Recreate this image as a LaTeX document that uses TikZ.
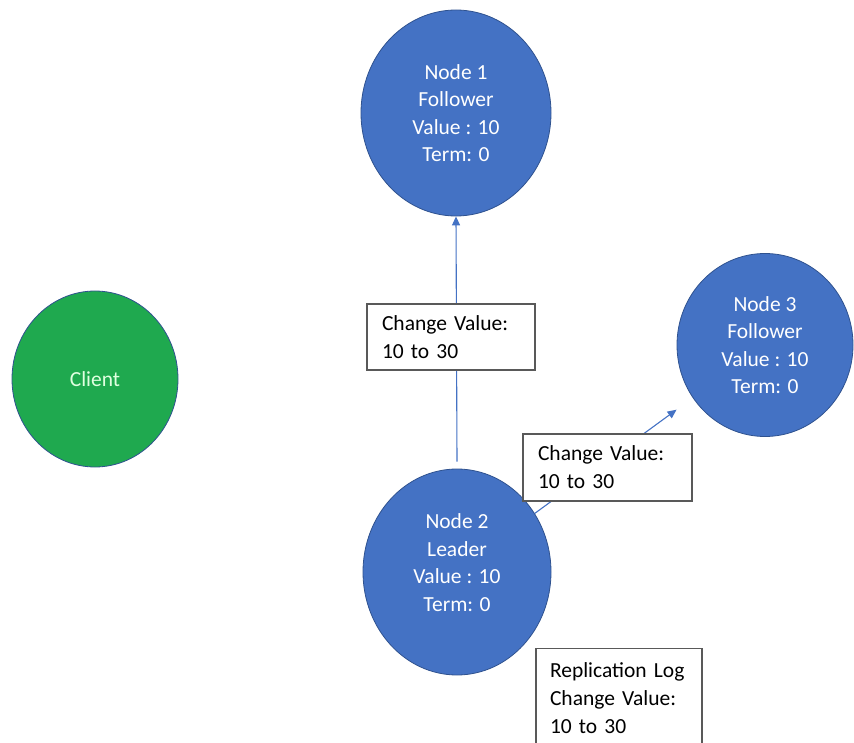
\documentclass[tikz,border=0pt]{standalone}
\usepackage{fontspec}
\setmainfont{Carlito}
\usetikzlibrary{shapes.geometric,arrows.meta}
\definecolor{nodeblue}{HTML}{4472C4}
\definecolor{rimblue}{HTML}{2F528F}
\definecolor{clientgreen}{HTML}{1FA94F}
\definecolor{boxrim}{HTML}{595959}
\begin{document}
\begin{tikzpicture}[x=1pt,y=-1pt,
  server/.style={ellipse, fill=nodeblue, draw=rimblue, line width=0.8pt,
    text=white, align=center, inner sep=0pt,
    font=\fontsize{21.5}{27.5}\selectfont},
  client/.style={ellipse, fill=clientgreen, draw=rimblue, line width=0.8pt,
    text=white!88!green, inner sep=0pt,
    font=\fontsize{21.5}{26}\selectfont},
  msgbox/.style={draw=boxrim, fill=white, line width=1.1pt, text=black,
    align=left, inner xsep=15pt, inner ysep=0pt,
    font=\fontsize{21.5}{28}\selectfont},
  conn/.style={draw=nodeblue, line width=1.1pt,
    -{Triangle[length=9pt,width=8pt]}}
]
\useasboundingbox (0,0) rectangle (854,743);

% cluster members
\node[server, minimum width=190pt, minimum height=206pt] (n1) at (456,113)
  {Node 1\\Follower\\Value : 10\\Term: 0};
\node[server, minimum width=176pt, minimum height=183pt] (n3) at (765,345)
  {Node 3\\Follower\\Value : 10\\Term: 0};
\node[server, minimum width=188pt, minimum height=206pt] (n2) at (457,572)
  {Node 2\\Leader\\Value : 10\\Term: 0\\[-9pt]};
\node[client, minimum width=166pt, minimum height=176pt] (c) at (95,379) {Client};

% replication messages from the leader
\draw[conn] ([yshift=7pt]n2.north) -- (n1.south);
\draw[conn, shorten >=20pt] (n2.37) -- (n3);

% message labels
\node[msgbox, text width=138pt, minimum height=66pt] (m1) at (451,337)
  {Change Value:\\10 to 30};
\node[msgbox, text width=139pt, minimum height=67pt] (m2) at (607.5,467.5)
  {Change Value:\\10 to 30};
\node[msgbox, text width=138pt, minimum height=100pt, anchor=north, inner xsep=14pt] (log) at (619,648)
  {Replication Log\\Change Value:\\10 to 30};
\end{tikzpicture}
\end{document}
